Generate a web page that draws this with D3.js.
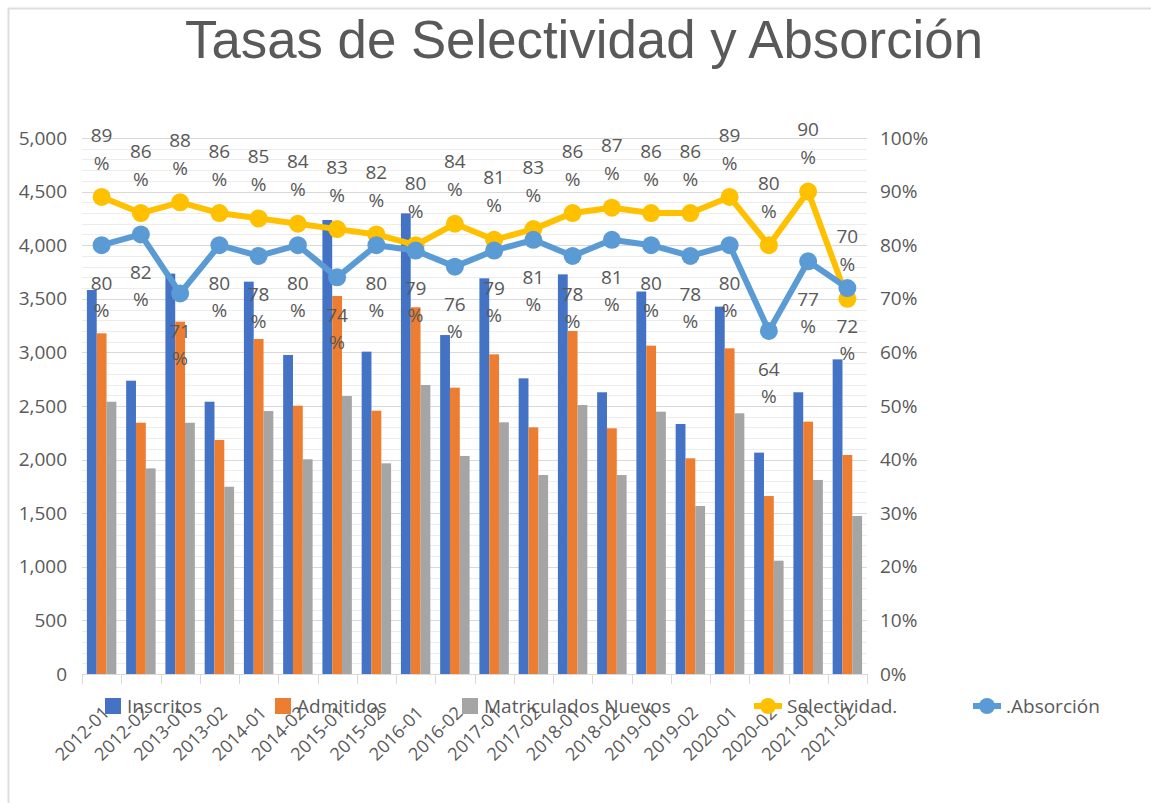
<!DOCTYPE html>
<html>
<head>
<meta charset="utf-8">
<script src="https://d3js.org/d3.v7.min.js"></script>
<style>
  body { margin: 0; background: #fff; }
  text { font-family: "Open Sans", "Noto Sans", sans-serif; fill: #595959; }
</style>
</head>
<body>
<div id="chart"></div>
<script>
// Data
var categorias = ["2012-01","2012-02","2013-01","2013-02","2014-01","2014-02","2015-01","2015-02",
    "2016-01","2016-02","2017-01","2017-02","2018-01","2018-02","2019-01","2019-02",
    "2020-01","2020-02","2021-01","2021-02"];
var inscritos    = [3582, 2736, 3735, 2540, 3660, 2976, 4235, 3007, 4297, 3162, 3691, 2758, 3728, 2628, 3568, 2332, 3427, 2065, 2628, 2935];
var admitidos    = [3178, 2344, 3287, 2183, 3125, 2503, 3526, 2456, 3421, 2671, 2982, 2301, 3200, 2292, 3063, 2012, 3038, 1660, 2354, 2043];
var matriculados = [2540, 1918, 2344, 1747, 2453, 2003, 2593, 1965, 2696, 2034, 2348, 1856, 2509, 1856, 2447, 1567, 2432, 1057, 1810, 1474];
var selectividad = [89, 86, 88, 86, 85, 84, 83, 82, 80, 84, 81, 83, 86, 87, 86, 86, 89, 80, 90, 70];
var absorcion    = [80, 82, 71, 80, 78, 80, 74, 80, 79, 76, 79, 81, 78, 81, 80, 78, 80, 64, 77, 72];
var leftTicks  = [0, 500, 1000, 1500, 2000, 2500, 3000, 3500, 4000, 4500, 5000];
var rightTicks = [0, 10, 20, 30, 40, 50, 60, 70, 80, 90, 100];

var barSeries = [
  {name: "Inscritos", values: inscritos, color: "#4472C4"},
  {name: "Admitidos", values: admitidos, color: "#ED7D31"},
  {name: "Matriculados Nuevos", values: matriculados, color: "#A5A5A5"}
];

var W = 1151, H = 803;
var pLeft = 82, pRight = 867, pTop = 138, pBottom = 674;

var svg = d3.select("#chart").append("svg")
    .attr("width", W)
    .attr("height", H);

// frame
svg.append("line").attr("x1", 8).attr("x2", W).attr("y1", 8.5).attr("y2", 8.5)
    .attr("stroke", "#dedede").attr("stroke-width", 2);
svg.append("line").attr("x1", 8.5).attr("x2", 8.5).attr("y1", 8).attr("y2", H)
    .attr("stroke", "#dedede").attr("stroke-width", 2);

// Title
svg.append("text")
    .attr("x", 584)
    .attr("y", 58)
    .attr("text-anchor", "middle")
    .attr("textLength", 798)
    .attr("lengthAdjust", "spacingAndGlyphs")
    .style("font-family", "'Liberation Sans Narrow', 'Arial Narrow', 'Liberation Sans', sans-serif")
    .style("font-size", "53px")
    .text("Tasas de Selectividad y Absorción");

// Scales
var xScale = d3.scaleBand().domain(categorias).range([pLeft, pRight]);
var xInner = d3.scaleBand().domain(d3.range(3)).range([0, xScale.bandwidth()]).paddingOuter(0.5);
var yLeft = d3.scaleLinear().domain([0, 5000]).range([pBottom, pTop]);
var yRight = d3.scaleLinear().domain([0, 100]).range([pBottom, pTop]);

// Gridlines (minor then major)
var minor = d3.range(100, 5001, 100).filter(function(v) { return v % 500 != 0; });
svg.append("g").selectAll("line").data(minor).enter().append("line")
    .attr("x1", pLeft).attr("x2", pRight)
    .attr("y1", function(d) { return Math.round(yLeft(d)) + 0.5; })
    .attr("y2", function(d) { return Math.round(yLeft(d)) + 0.5; })
    .attr("stroke", "#ededed");
svg.append("g").selectAll("line").data(leftTicks.slice(1)).enter().append("line")
    .attr("x1", pLeft).attr("x2", pRight)
    .attr("y1", function(d) { return Math.round(yLeft(d)) + 0.5; })
    .attr("y2", function(d) { return Math.round(yLeft(d)) + 0.5; })
    .attr("stroke", "#d9d9d9");

// Bars
barSeries.forEach(function(s, i) {
  svg.append("g").selectAll("rect").data(s.values).enter().append("rect")
      .attr("x", function(d, j) { return xScale(categorias[j]) + xInner(i); })
      .attr("width", xInner.bandwidth())
      .attr("y", function(d) { return yLeft(d); })
      .attr("height", function(d) { return yLeft(0) - yLeft(d); })
      .attr("fill", s.color);
});

// x axis line + ticks
svg.append("line").attr("x1", pLeft).attr("x2", pRight)
    .attr("y1", pBottom + 0.5).attr("y2", pBottom + 0.5).attr("stroke", "#d9d9d9");
var bounds = categorias.map(function(c) { return xScale(c); }).concat([pRight]);
svg.append("g").selectAll("line").data(bounds).enter().append("line")
    .attr("x1", function(d) { return Math.round(d) + 0.5; })
    .attr("x2", function(d) { return Math.round(d) + 0.5; })
    .attr("y1", pBottom).attr("y2", pBottom + 10)
    .attr("stroke", "#d9d9d9");

// Lines
var cx = function(d, j) { return xScale(categorias[j]) + xScale.bandwidth() / 2; };
var lineSeries = [
  {name: "Selectividad.", values: selectividad, color: "#FFC000", pos: "above"},
  {name: ".Absorción", values: absorcion, color: "#5B9BD5", pos: "below"}
];
lineSeries.forEach(function(s) {
  var line = d3.line().x(cx).y(function(d) { return yRight(d); });
  svg.append("path").datum(s.values)
      .attr("d", line)
      .attr("fill", "none")
      .attr("stroke", s.color)
      .attr("stroke-width", 6)
      .attr("stroke-linejoin", "round");
  svg.append("g").selectAll("circle").data(s.values).enter().append("circle")
      .attr("cx", cx)
      .attr("cy", function(d) { return yRight(d); })
      .attr("r", 9)
      .attr("fill", s.color);
});

// Data labels (wrapped in two lines like Excel)
lineSeries.forEach(function(s) {
  var off1 = s.pos == "above" ? -62 : 38;
  var off2 = s.pos == "above" ? -34 : 65;
  var g = svg.append("g").style("font-size", "19px").attr("text-anchor", "middle");
  g.selectAll(".n").data(s.values).enter().append("text")
      .attr("x", cx)
      .attr("y", function(d) { return yRight(d) + off1; })
      .attr("dy", "0.35em")
      .text(function(d) { return d; });
  g.selectAll(".p").data(s.values).enter().append("text")
      .attr("x", cx)
      .attr("y", function(d) { return yRight(d) + off2; })
      .attr("dy", "0.35em")
      .text("%");
});

// Y axis labels
svg.append("g").style("font-size", "19px").attr("text-anchor", "end")
    .selectAll("text").data(leftTicks).enter().append("text")
    .attr("x", 67)
    .attr("y", function(d) { return yLeft(d); })
    .attr("dy", "0.35em")
    .text(function(d) { return d3.format(",")(d); });
svg.append("g").style("font-size", "19px").attr("text-anchor", "start")
    .selectAll("text").data(rightTicks).enter().append("text")
    .attr("x", 880)
    .attr("y", function(d) { return yRight(d); })
    .attr("dy", "0.35em")
    .text(function(d) { return d + "%"; });

// X axis labels, rotated
svg.append("g").style("font-size", "18px").attr("text-anchor", "end")
    .selectAll("text").data(categorias).enter().append("text")
    .attr("transform", function(d) {
      var x = xScale(d) + xScale.bandwidth() / 2 + 9;
      return "translate(" + x + "," + 714 + ") rotate(-45)";
    })
    .text(function(d) { return d; });

// Legend
var legY = 706;
var legend = svg.append("g").style("font-size", "19px");
var barLeg = [105, 275, 462];
barSeries.forEach(function(s, i) {
  legend.append("rect").attr("x", barLeg[i]).attr("y", legY - 8)
      .attr("width", 16).attr("height", 16).attr("fill", s.color);
  legend.append("text").attr("x", barLeg[i] + 22).attr("y", legY).attr("dy", "0.35em").text(s.name);
});
var lineLeg = [754, 973];
lineSeries.forEach(function(s, i) {
  legend.append("line").attr("x1", lineLeg[i]).attr("x2", lineLeg[i] + 28)
      .attr("y1", legY).attr("y2", legY)
      .attr("stroke", s.color).attr("stroke-width", 6);
  legend.append("circle").attr("cx", lineLeg[i] + 14).attr("cy", legY).attr("r", 8).attr("fill", s.color);
  legend.append("text").attr("x", lineLeg[i] + 33).attr("y", legY).attr("dy", "0.35em").text(s.name);
});
</script>
</body>
</html>
